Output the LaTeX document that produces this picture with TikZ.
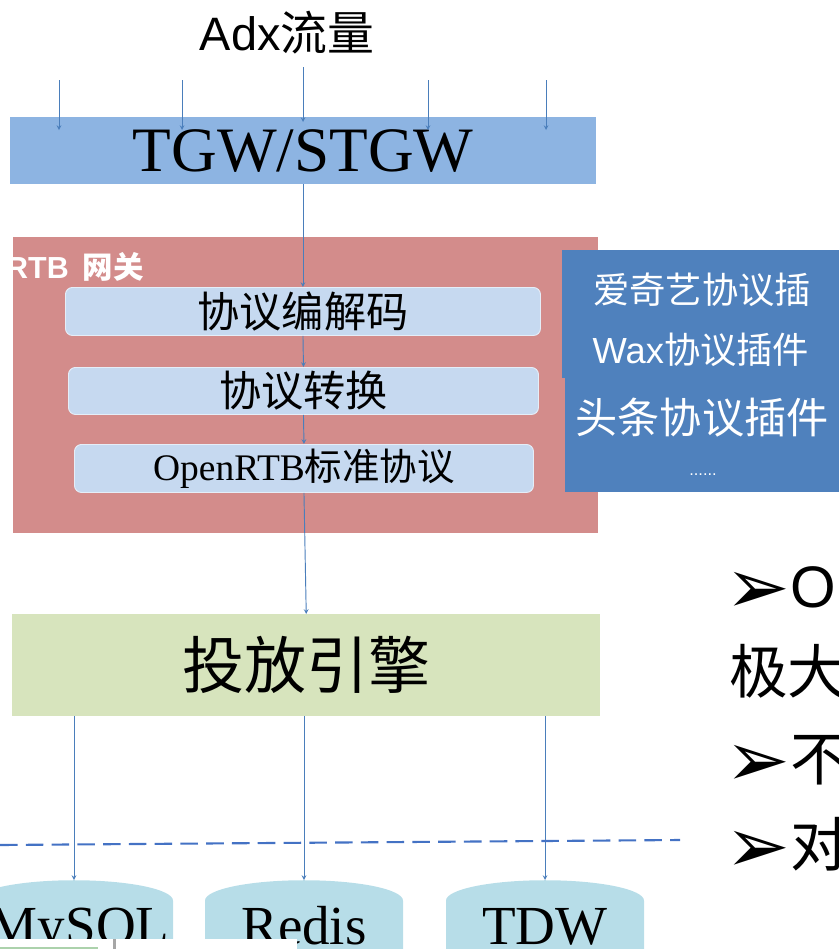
\documentclass[tikz,border=0pt]{standalone}
\usepackage{fontspec}
\setmainfont{Liberation Serif}
\newfontfamily\arialfont{Liberation Sans}
\newfontfamily\cjkfont{Noto Sans CJK SC}
\newfontfamily\symfont{DejaVu Sans}
\usepackage{xcolor}
\definecolor{tgwblue}{RGB}{141,180,226}
\definecolor{rtbred}{RGB}{211,140,139}
\definecolor{stepblue}{RGB}{198,217,240}
\definecolor{pluginblue}{RGB}{79,129,189}
\definecolor{enginegreen}{RGB}{215,228,189}
\definecolor{dbblue}{RGB}{183,221,232}
\definecolor{linkblue}{RGB}{74,126,187}
\definecolor{cutblue}{RGB}{68,114,196}
\usepackage{tikz}
\usetikzlibrary{shapes.geometric,arrows,positioning,calc}
\newdimen\px \px=0.03cm
\newcommand{\arrowhd}{\raisebox{-6\px}{\symfont\fontsize{66}{66}\selectfont ➢}}

\begin{document}
\begin{tikzpicture}[
    x=0.03cm, y=-0.03cm,
    block/.style={rectangle, inner sep=0pt, anchor=north west},
    stepbox/.style={block, rounded corners=6pt, fill=stepblue, draw=white!55!stepblue, line width=0.8pt, font=\cjkfont\fontsize{36}{40}\selectfont},
    plugin/.style={text=white, inner sep=0pt, font=\cjkfont\fontsize{31}{36}\selectfont},
    db/.style={cylinder, shape border rotate=90, aspect=0.24, fill=dbblue, minimum width=198\px, text width=170\px, align=center, text height=20pt, text depth=53pt, inner sep=0pt, anchor=north, font=\fontsize{47}{50}\selectfont},
    bullet/.style={anchor=base west, inner sep=0pt, font=\fontsize{50}{54}\selectfont},
    flow/.style={->, >=stealth, linkblue, line width=0.8pt},
    cutline/.style={cutblue, dash pattern=on 15pt off 7pt, line width=1.8pt}
]
\useasboundingbox (0,0) rectangle (839,949);
\clip (0,0) rectangle (839,949);

% Traffic
\node[font=\fontsize{40}{46}\selectfont, inner sep=0pt] (adx) at (287,33) {{\arialfont Adx}{\cjkfont 流量}};

% Gateways
\node[block, fill=tgwblue, minimum width=586\px, minimum height=67\px, font=\fontsize{54}{60}\selectfont] (tgw) at (10,117) {TGW/STGW};
\node[block, fill=rtbred, minimum width=585\px, minimum height=296\px] (rtb) at (13,237) {};
\node[anchor=base east, inner sep=0pt, text=white, font=\fontsize{26}{30}\selectfont\bfseries] (rtblabel) at (144,278) {{\arialfont RTB}\hspace{14\px}{\cjkfont 网关}};

% Plugins
\fill[pluginblue] (562,250) rectangle (845,378);
\fill[pluginblue] (565,377) rectangle (845,492);
\node[plugin] (iqiyi) at (702,290) {爱奇艺协议插};
\node[plugin] (wax) at (701,350) {{\arialfont Wax}协议插件};
\node[plugin, font=\cjkfont\fontsize{36}{40}\selectfont] (toutiao) at (702,418) {头条协议插件};
\node[plugin, font=\arialfont\fontsize{14}{16}\selectfont] (more) at (703,475) {......};

% Protocol steps
\node[stepbox, minimum width=475\px, minimum height=48\px] (decode) at (65,287) {协议编解码};
\node[stepbox, minimum width=470\px, minimum height=47\px] (convert) at (68,367) {协议转换};
\node[stepbox, minimum width=459\px, minimum height=48\px, font=\fontsize{32}{36}\selectfont] (openrtb) at (74,444) {OpenRTB{\cjkfont 标准协议}};

% Engine
\node[block, fill=enginegreen, minimum width=588\px, minimum height=102\px, font=\cjkfont\fontsize{53}{60}\selectfont] (engine) at (12,614) {投放引擎};

% Storage
\node[db] (mysql) at (74,880) {MySQL};
\node[db] (redis) at (304,880) {Redis};
\node[db] (tdw) at (545,880) {TDW};

% Arrows
\foreach \x [count=\i] in {59,182,428,546} {
  \coordinate (in\i) at (\x,80);
  \draw[flow] (in\i) -- ++(0,50);
}
\coordinate (inc) at (303,67);
\draw[flow] (inc) -- ++(0,55);
\draw[flow] (decode.north |- tgw.south) -- (decode.north);
\draw[flow] (decode.south) -- (convert.north);
\draw[flow] (convert.south) -- (openrtb.north);
\draw[flow] (openrtb.south) -- (engine.north);
\foreach \db in {mysql,redis,tdw}
  \draw[flow] (engine.south -| \db.north) -- (\db.north);

% Cut line
\coordinate (cutl) at (0,845);
\coordinate (cutr) at (680,840);
\draw[cutline] (cutl) -- (cutr);

% Notes
\node[bullet] (b1) at (725,607) {\arrowhd{\arialfont O}};
\node[bullet] (b2) at (729,693) {{\cjkfont 极大}};
\node[bullet] (b3) at (725,780) {\arrowhd{\cjkfont 不}};
\node[bullet] (b4) at (725,866) {\arrowhd{\cjkfont 对}};

% Overlap at bottom
\fill[white] (0,939) rectangle (297,949);
\draw[gray!70, line width=3\px] (114,939) -- (114,949);
\draw[green!30!gray!50, line width=1.5\px] (0,948) -- (98,948);
\end{tikzpicture}
\end{document}
